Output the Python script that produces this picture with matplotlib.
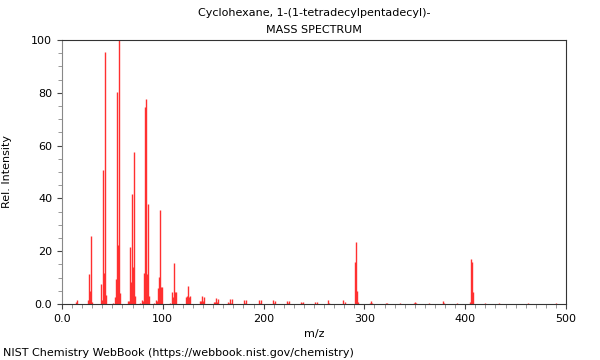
import matplotlib.pyplot as plt
from matplotlib.ticker import MultipleLocator

# peaks
mz = [14, 15, 26, 27, 28, 29, 30,
      39, 40, 41, 42, 43, 44,
      51, 53, 54, 55, 56, 57, 58,
      65, 66, 67, 68, 69, 70, 71, 72,
      77, 79, 80, 81, 82, 83, 84, 85, 86,
      91, 93, 94, 95, 96, 97, 98, 99,
      107, 109, 110, 111, 112, 113,
      123, 124, 125, 126, 127,
      137, 138, 139, 140, 141,
      151, 152, 153, 154, 155,
      165, 166, 167, 168, 169,
      181, 182, 183, 195, 196, 197,
      209, 210, 211, 223, 224, 225,
      237, 238, 239, 251, 253, 264, 265,
      279, 281, 291, 292, 293, 294,
      306, 307, 308, 321, 322, 335,
      349, 350, 351, 364, 378, 379, 392,
      405, 406, 407, 408, 420, 434, 462, 490]
intensity = [0.8, 1.5, 1.5, 11.5, 5.0, 25.7, 0.8,
             7.6, 1.5, 50.7, 11.7, 95.6, 3.5,
             0.5, 2.8, 9.5, 80.4, 22.3, 100.0, 4.0,
             1.0, 1.0, 21.7, 8.5, 41.7, 14.0, 57.5, 3.0,
             0.5, 1.5, 1.0, 11.6, 74.7, 77.5, 11.5, 38.0, 3.0,
             0.5, 1.5, 1.0, 6.0, 10.3, 35.6, 6.5, 6.5,
             0.5, 4.7, 2.5, 15.4, 4.5, 4.5,
             2.5, 3.0, 7.0, 2.5, 3.0,
             1.0, 1.0, 3.2, 1.0, 2.5,
             0.8, 0.8, 2.1, 0.7, 2.0,
             0.8, 0.5, 2.0, 0.5, 2.0,
             1.7, 0.5, 1.7, 1.7, 0.5, 1.7,
             1.5, 0.4, 1.3, 1.1, 0.4, 1.0,
             0.9, 0.3, 0.8, 0.9, 0.8, 1.5, 0.5,
             1.4, 0.8, 16.0, 23.6, 5.0, 0.8,
             0.4, 1.3, 0.4, 0.5, 0.4, 0.3,
             0.4, 0.7, 0.3, 0.3, 1.0, 0.3, 0.3,
             0.8, 17.0, 16.0, 4.5, 0.3, 0.3, 0.2, 0.3]

fig = plt.figure(figsize=(6, 3.6), dpi=100)
ax = fig.add_axes([62/600, 56/360, 504/600, 264/360])

ax.vlines(mz, 0, intensity, color='#ff3030', linewidth=1.0)

ax.set_xlim(0, 500)
ax.set_ylim(0, 100)
ax.xaxis.set_major_locator(MultipleLocator(100))
ax.xaxis.set_minor_locator(MultipleLocator(10))
ax.yaxis.set_major_locator(MultipleLocator(20))
ax.yaxis.set_minor_locator(MultipleLocator(5))
ax.set_xticklabels(['', '0.0', '100', '200', '300', '400', '500'])
ax.set_yticklabels(['', '0.0', '20', '40', '60', '80', '100'])
ax.tick_params(labelsize=8, width=0.8, color='#444444')
ax.tick_params(which='minor', length=3, color='#888888')
for s in ax.spines.values():
    s.set_linewidth(0.8)
    s.set_color('#333333')
ax.spines['left'].set_color('#888888')

ax.set_xlabel('m/z', fontsize=8)
ax.set_ylabel('Rel. Intensity', fontsize=8)
ax.yaxis.set_label_coords(-0.1, 0.5)
fig.text(314/600, 1 - 13/360, 'Cyclohexane, 1-(1-tetradecylpentadecyl)-', ha='center', va='center', fontsize=8)
fig.text(314/600, 1 - 30/360, 'MASS SPECTRUM', ha='center', va='center', fontsize=8)
fig.text(3/600, 1 - 353/360, 'NIST Chemistry WebBook (https://webbook.nist.gov/chemistry)', ha='left', va='center', fontsize=8)

fig.savefig('out.png', dpi=100)
